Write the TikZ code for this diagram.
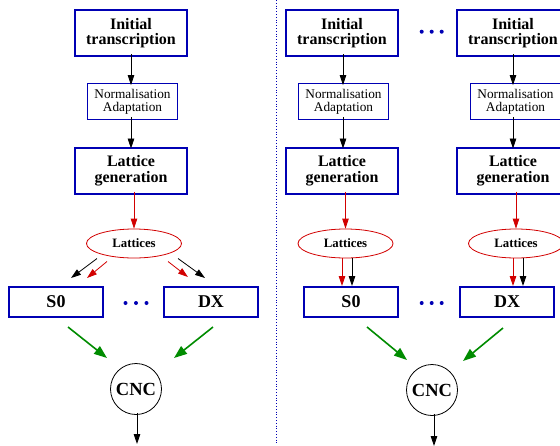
\documentclass[tikz,border=0pt]{standalone}
\usepackage{fontspec}
\setmainfont{Liberation Serif}
\usetikzlibrary{arrows.meta,shapes.geometric,calc}
\definecolor{myblue}{RGB}{0,0,180}
\definecolor{myred}{RGB}{210,0,0}
\definecolor{mygreen}{RGB}{0,140,0}
\tikzset{
  bigbox/.style={draw=myblue,line width=2pt,minimum width=112pt,minimum height=46pt,inner sep=0pt,align=center,font=\fontsize{16}{15.5}\selectfont\bfseries},
  normbox/.style={draw=myblue,line width=0.8pt,minimum width=90pt,minimum height=36pt,inner sep=0pt,align=center,font=\fontsize{13.3}{13}\selectfont},
  latell/.style={ellipse,draw=myred,line width=0.8pt,minimum width=95pt,minimum height=29pt,inner sep=0pt,font=\fontsize{12.8}{13}\selectfont\bfseries},
  sbox/.style={draw=myblue,line width=2pt,minimum width=94pt,minimum height=30pt,inner sep=0pt,font=\fontsize{18}{18}\selectfont\bfseries},
  cncnode/.style={circle,draw,line width=0.8pt,minimum size=51pt,inner sep=0pt,font=\fontsize{18.5}{18}\selectfont\bfseries},
  bdot/.style={circle,fill=myblue,inner sep=0pt,minimum size=4pt},
  blkarr/.style={line width=0.8pt,-{Triangle[length=10pt,width=6.5pt]}},
  redarr/.style={myred,line width=0.8pt,-{Triangle[length=10pt,width=6.5pt]}},
  grnarr/.style={mygreen,line width=1.6pt,-{Triangle[length=13pt,width=9.5pt]}},
  sepline/.style={myblue,line width=0.8pt,dotted}
}
\begin{document}
\begin{tikzpicture}[x=1pt,y=-1pt]
\useasboundingbox (0,0) rectangle (560,445);
\clip (0,0) rectangle (560,445);
\fill[white] (0,0) rectangle (560,445);
% separator
\coordinate (septop) at (276,0);
\coordinate (sepbot) at (276,445);
\draw[sepline] (septop) -- (sepbot);
% ---------- left panel ----------
\node[bigbox] (init1) at (131,33) {Initial\\transcription};
\node[normbox] (norm1) at (132.5,101.5) {Normalisation\\Adaptation};
\node[bigbox] (gen1) at (131,170.5) {Lattice\\generation};
\node[latell] (lat1) at (134,243.5) {Lattices};
\node[sbox] (s0L) at (56,302) {S0};
\node[sbox] (dxL) at (211,302) {DX};
\node[bdot] (dL1) at (125.5,303) {};
\node[bdot] (dL2) at (136,303) {};
\node[bdot] (dL3) at (146.5,303) {};
\node[cncnode] (cncL) at (136,389) {CNC};
\coordinate (outL) at (137,444);
\draw[blkarr] ([yshift=3pt]init1.south) -- ([yshift=-2pt]init1.south |- norm1.north);
\draw[blkarr] ([xshift=-1.5pt,yshift=3pt]norm1.south) -- ([yshift=-2pt]gen1.north);
\draw[redarr] ([yshift=3pt]lat1.north |- gen1.south) -- (lat1.north);
\draw[blkarr] ($(lat1.center)+(-37,15)$) -- ($(s0L.north)+(15,-8)$);
\draw[redarr] ($(lat1.center)+(-27,18)$) -- ($(s0L.north)+(31,-8)$);
\draw[redarr] ($(lat1.center)+(34,18)$) -- ($(dxL.north)+(-23,-9)$);
\draw[blkarr] ($(lat1.center)+(44,15)$) -- ($(dxL.north)+(-6,-8)$);
\draw[grnarr] ($(s0L.south)+(12,9)$) -- ($(cncL.center)+(-29,-31)$);
\draw[grnarr] ($(dxL.south)+(2,9)$) -- ($(cncL.center)+(38,-31)$);
\draw[blkarr] ([yshift=2pt]cncL.south -| outL) -- (outL);
% ---------- right panel ----------
\node[bigbox] (init2) at (342,33) {Initial\\transcription};
\node[bdot] (dT1) at (421.7,31.7) {};
\node[bdot] (dT2) at (431.7,31.7) {};
\node[bdot] (dT3) at (441.7,31.7) {};
\node[bigbox] (init3) at (513,33) {Initial\\transcription};
\node[normbox] (norm2) at (343.5,101.5) {Normalisation\\Adaptation};
\node[normbox] (norm3) at (515.5,101.5) {Normalisation\\Adaptation};
\node[bigbox] (gen2) at (342,170.5) {Lattice\\generation};
\node[bigbox] (gen3) at (513,170.5) {Lattice\\generation};
\node[latell] (lat2) at (345.5,243.5) {Lattices};
\node[latell] (lat3) at (516,243.5) {Lattices};
\node[sbox] (s0R) at (351,302) {S0};
\node[sbox] (dxR) at (507,302) {DX};
\node[bdot] (dB1) at (421.7,303) {};
\node[bdot] (dB2) at (431.7,303) {};
\node[bdot] (dB3) at (441.7,303) {};
\node[cncnode] (cncR) at (432,390) {CNC};
\coordinate (outR) at (434,446);
\draw[blkarr] ([xshift=1pt,yshift=3pt]init2.south) -- ([xshift=1pt,yshift=-2pt]init2.south |- norm2.north);
\draw[blkarr] ([xshift=1pt,yshift=3pt]init2.south |- norm2.south) -- ([xshift=1pt,yshift=-2pt]gen2.north);
\draw[blkarr] ([yshift=3pt]init3.south) -- ([yshift=-2pt]init3.south |- norm3.north);
\draw[blkarr] ([yshift=3pt]init3.south |- norm3.south) -- ([yshift=-2pt]gen3.north);
\draw[redarr] ([yshift=3pt]lat2.north |- gen2.south) -- (lat2.north);
\draw[redarr] ([yshift=3pt]lat3.north |- gen3.south) -- (lat3.north);
\draw[redarr] ([xshift=-3.5pt]lat2.south) -- ([xshift=-3.5pt]lat2.south |- s0R.north);
\draw[blkarr] ([xshift=6.5pt]lat2.south) -- ([xshift=6.5pt]lat2.south |- s0R.north);
\draw[redarr] ([xshift=-3pt]lat3.south) -- ([xshift=-3pt]lat3.south |- dxR.north);
\draw[blkarr] ([xshift=7pt]lat3.south) -- ([xshift=7pt]lat3.south |- dxR.north);
\draw[grnarr] ($(s0R.south)+(16,9)$) -- ($(cncR.center)+(-25,-30)$);
\draw[grnarr] ($(dxR.south)+(-4,10)$) -- ($(cncR.center)+(31,-29)$);
\draw[blkarr] ([yshift=2pt]cncR.south -| outR) -- (outR);
\end{tikzpicture}
\end{document}
